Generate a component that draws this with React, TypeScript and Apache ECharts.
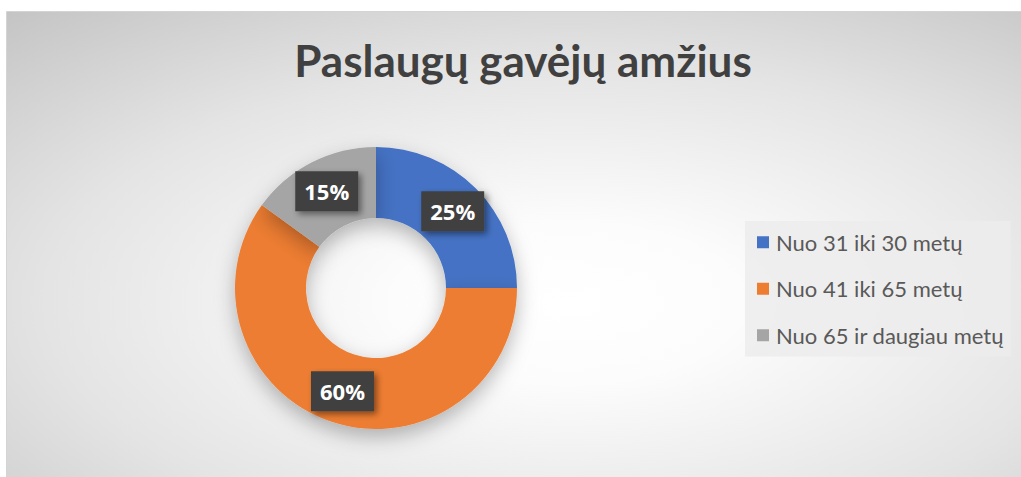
import React, { useEffect, useRef } from "react";
import * as echarts from "echarts";

const titleText = "Paslaugų gavėjų amžius";
const categories = ["Nuo 31 iki 30 metų", "Nuo 41 iki 65 metų", "Nuo 65 ir daugiau metų"];
const values = [25, 60, 15];
const colors = ["#4472C4", "#ED7D31", "#A5A5A5"];

export default function App() {
  const ref = useRef<HTMLDivElement>(null);
  useEffect(() => {
    if (!ref.current) return;
    const chart = echarts.init(ref.current, undefined, { renderer: "svg" });
    chart.setOption({
      animation: false,
      backgroundColor: "#ffffff",
      graphic: [
        {
          type: "rect",
          z: -10,
          silent: true,
          shape: { x: 6.5, y: 11.5, width: 1020, height: 470 },
          style: {
            fill: {
              type: "radial",
              x: 0.55,
              y: 0.62,
              r: 0.85,
              colorStops: [
                { offset: 0, color: "#ffffff" },
                { offset: 0.2, color: "#fcfcfc" },
                { offset: 0.6, color: "#e4e4e4" },
                { offset: 1, color: "#c2c2c2" },
              ],
            },
            stroke: "#d4d4d4",
            lineWidth: 1,
          },
        },
      ],
      title: {
        text: titleText,
        left: 518,
        textAlign: "center",
        top: 33,
        textStyle: {
          fontFamily: "Lato",
          fontWeight: "bold",
          fontSize: 44,
          color: "#404040",
        },
      },
      legend: {
        orient: "vertical",
        left: 745,
        top: 221,
        padding: [10, 7, 10, 12],
        itemGap: 24,
        itemWidth: 12,
        itemHeight: 12,
        icon: "rect",
        backgroundColor: "rgba(236,236,236,0.85)",
        data: categories,
        textStyle: {
          fontFamily: "Lato",
          fontSize: 22,
          lineHeight: 22.5,
          color: "#595959",
          padding: [0, 0, 0, 2],
        },
      },
      series: [
        {
          type: "pie",
          center: [376, 288],
          radius: [70, 141],
          startAngle: 90,
          clockwise: true,
          silent: true,
          itemStyle: {
            shadowBlur: 20,
            shadowOffsetY: 8,
            shadowColor: "rgba(0,0,0,0.28)",
          },
          label: {
            show: true,
            position: "inside",
            formatter: "{c}%",
            fontFamily: "Open Sans",
            fontWeight: "bold",
            fontSize: 22,
            lineHeight: 26,
            color: "#ffffff",
            backgroundColor: "#404040",
            padding: [7, 9],
            shadowBlur: 6,
            shadowOffsetX: 3,
            shadowOffsetY: 3,
            shadowColor: "rgba(0,0,0,0.45)",
          },
          labelLine: { show: false },
          data: categories.map((name, i) => ({
            name,
            value: values[i],
            itemStyle: { color: colors[i] },
          })),
        },
      ],
    });
    return () => chart.dispose();
  }, []);
  return (
    <div
      ref={ref}
      style={{ position: "fixed", left: 0, top: 0, width: 1021, height: 477 }}
    />
  );
}
